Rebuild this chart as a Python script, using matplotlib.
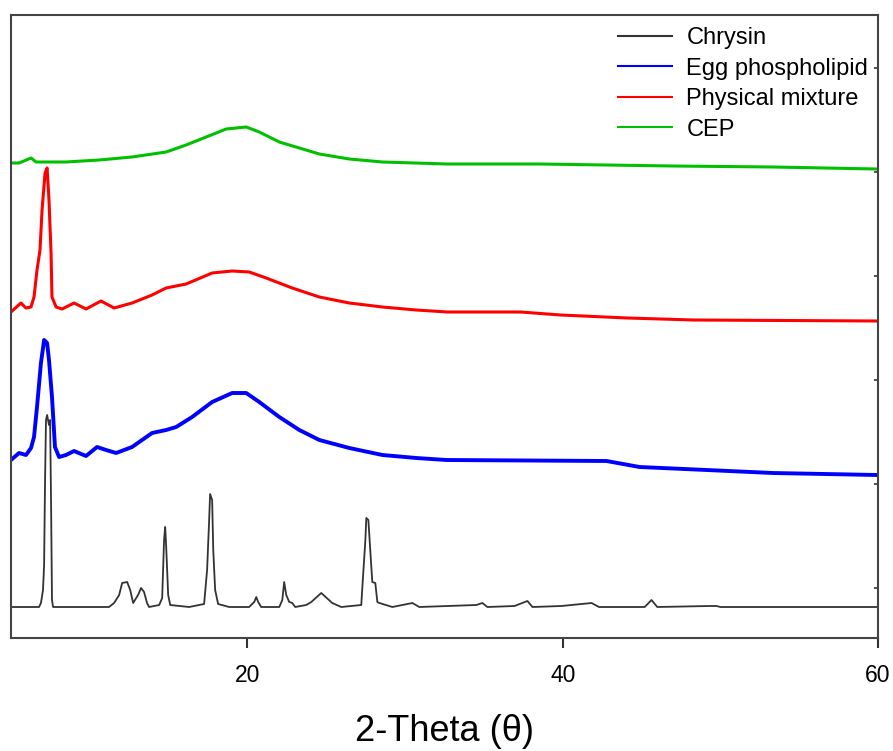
import matplotlib.pyplot as plt

plt.rcParams['font.family'] = ['Liberation Sans', 'DejaVu Sans']

# stacked XRD patterns, intensity in a.u. (offsets already included)
chrysin_x = [5.00, 6.78, 6.90, 7.03, 7.10, 7.16, 7.22, 7.29, 7.41, 7.48, 7.54, 7.60, 7.67,
             11.22, 11.54, 11.86, 12.05, 12.37, 12.56, 12.75, 13.06, 13.25, 13.44, 13.63, 13.76,
             14.40, 14.59, 14.71, 14.78, 14.84, 14.97, 15.10, 16.30, 17.25, 17.44, 17.57, 17.63,
             17.76, 17.83, 17.95, 18.14, 18.84, 19.79, 20.11, 20.43, 20.56, 20.68, 20.87, 22.02,
             22.21, 22.33, 22.46, 22.65, 22.84, 23.03, 23.73, 24.05, 24.68, 25.38, 25.95, 27.22,
             27.29, 27.48, 27.54, 27.67, 27.79, 27.92, 28.11, 28.24, 28.37, 29.19, 30.46, 30.90,
             34.52, 34.90, 35.22, 36.94, 37.76, 38.08, 39.92, 41.83, 42.30, 45.20, 45.63, 46.00,
             49.32, 49.76, 50.00, 60.00]
chrysin_y = [31, 31, 35, 48, 73, 158, 218, 223, 213, 218, 138, 38, 31,
             31, 35, 43, 55, 56, 48, 35, 43, 50, 46, 35, 31,
             33, 40, 98, 111, 93, 43, 33, 31, 34, 68, 118, 144,
             138, 88, 48, 34, 31, 31, 31, 36, 41, 36, 31, 31,
             38, 56, 43, 36, 35, 31, 33, 36, 45, 35, 31, 33,
             51, 98, 120, 118, 88, 56, 55, 36, 35, 31, 35, 31,
             33, 35, 31, 32, 37, 31, 32, 35, 31, 31, 38, 31,
             32, 32, 31, 31]

egg_x = [5.00, 5.51, 5.95, 6.27, 6.46, 6.65, 6.90, 7.10, 7.29, 7.41, 7.60, 7.79, 8.05,
         8.49, 9.00, 9.76, 10.46, 11.03, 11.67, 12.68, 13.95, 14.84, 15.48, 16.49, 17.76,
         19.03, 19.92, 20.75, 22.02, 23.29, 24.56, 26.46, 28.56, 30.71, 32.62, 42.78,
         44.87, 49.13, 53.32, 59.92]
egg_y = [178, 185, 183, 190, 201, 231, 275, 298, 295, 278, 241, 191, 181,
         183, 187, 182, 191, 188, 185, 191, 205, 208, 211, 221, 236,
         245, 245, 236, 221, 208, 198, 190, 183, 180, 178, 177,
         171, 168, 165, 163]

mix_x = [5.00, 5.63, 5.95, 6.27, 6.46, 6.65, 6.84, 6.97, 7.16, 7.29, 7.41, 7.54, 7.60,
         7.86, 8.24, 9.00, 9.76, 10.71, 11.54, 12.68, 13.95, 14.84, 16.11, 17.76, 19.03,
         20.11, 21.19, 22.84, 24.56, 26.46, 28.56, 30.71, 32.68, 37.33, 39.86, 44.11,
         48.30, 59.92]
mix_y = [326, 335, 330, 331, 341, 368, 388, 428, 465, 470, 438, 385, 341,
         331, 329, 335, 329, 337, 330, 335, 343, 350, 354, 365, 367,
         366, 360, 350, 341, 335, 331, 328, 326, 326, 323, 320,
         318, 317]

cep_x = [5.00, 5.51, 6.27, 6.59, 8.49, 10.59, 12.68, 14.84, 16.11, 17.38, 18.65, 19.92,
         20.75, 22.02, 23.29, 24.56, 26.46, 28.56, 32.68, 38.52, 46.97, 53.32, 59.92]
cep_y = [475, 475, 480, 476, 476, 478, 481, 486, 493, 501, 509, 511,
         506, 496, 490, 484, 479, 476, 474, 474, 472, 471, 469]

labels = ['Chrysin', 'Egg phospholipid', 'Physical mixture', 'CEP']
colors = ['#333333', '#0000ff', '#ff0000', '#00c000']

fig = plt.figure(figsize=(8.93, 7.51), dpi=100)
ax = fig.add_axes([11/893, 1 - 638/751, 867/893, 623/751])

ax.plot(chrysin_x, chrysin_y, color=colors[0], lw=1.3, label=labels[0])
ax.plot(egg_x, egg_y, color=colors[1], lw=2.8, label=labels[1])
ax.plot(mix_x, mix_y, color=colors[2], lw=2.2, label=labels[2])
ax.plot(cep_x, cep_y, color=colors[3], lw=2.2, label=labels[3])

ax.set_xlim(5, 60)
ax.set_ylim(0, 623)
ax.set_xticks([20, 40, 60])
ax.set_yticks([50, 154, 258, 362, 466, 570])
ax.tick_params(axis='x', direction='out', length=7, width=1.5, labelsize=16.5, pad=12,
               colors='#333333', labelcolor='black')
ax.tick_params(axis='y', left=False, right=True, labelleft=False, direction='in',
               length=3, width=1.2, colors='#333333')
for s in ax.spines.values():
    s.set_linewidth(1.5)
    s.set_color('#444444')

ax.set_xlabel('2-Theta (θ)', fontsize=26, labelpad=19)

leg = ax.legend(loc='upper left', bbox_to_anchor=(618/893, 1 - 27/751), bbox_transform=fig.transFigure,
                frameon=False, fontsize=17, handlelength=2.3, handletextpad=0.6,
                labelspacing=0.36, borderpad=0, borderaxespad=0)
for line in leg.get_lines():
    line.set_linewidth(1.5)

fig.savefig('out.png', dpi=100)
